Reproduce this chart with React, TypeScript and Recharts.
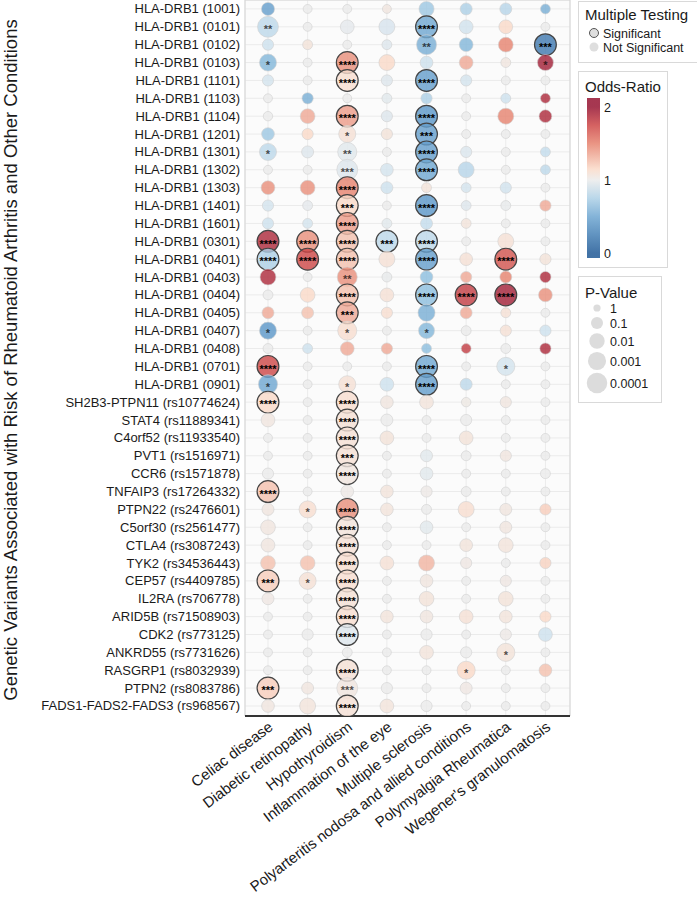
import React from "react";
import { ScatterChart, Scatter, XAxis, YAxis, CartesianGrid, ReferenceArea } from "recharts";

const diseases = [
  "Celiac disease",
  "Diabetic retinopathy",
  "Hypothyroidism",
  "Inflammation of the eye",
  "Multiple sclerosis",
  "Polyarteritis nodosa and allied conditions",
  "Polymyalgia Rheumatica",
  "Wegener's granulomatosis",
];

const variants = [
  "HLA-DRB1 (1001)", "HLA-DRB1 (0101)", "HLA-DRB1 (0102)", "HLA-DRB1 (0103)",
  "HLA-DRB1 (1101)", "HLA-DRB1 (1103)", "HLA-DRB1 (1104)", "HLA-DRB1 (1201)",
  "HLA-DRB1 (1301)", "HLA-DRB1 (1302)", "HLA-DRB1 (1303)", "HLA-DRB1 (1401)",
  "HLA-DRB1 (1601)", "HLA-DRB1 (0301)", "HLA-DRB1 (0401)", "HLA-DRB1 (0403)",
  "HLA-DRB1 (0404)", "HLA-DRB1 (0405)", "HLA-DRB1 (0407)", "HLA-DRB1 (0408)",
  "HLA-DRB1 (0701)", "HLA-DRB1 (0901)", "SH2B3-PTPN11 (rs10774624)", "STAT4 (rs11889341)",
  "C4orf52 (rs11933540)", "PVT1 (rs1516971)", "CCR6 (rs1571878)", "TNFAIP3 (rs17264332)",
  "PTPN22 (rs2476601)", "C5orf30 (rs2561477)", "CTLA4 (rs3087243)", "TYK2 (rs34536443)",
  "CEP57 (rs4409785)", "IL2RA (rs706778)", "ARID5B (rs71508903)", "CDK2 (rs773125)",
  "ANKRD55 (rs7731626)", "RASGRP1 (rs8032939)", "PTPN2 (rs8083786)", "FADS1-FADS2-FADS3 (rs968567)",
];

// one row per variant, one column per disease
const oddsRatio = [
  [0.45, 1.0, 1.0, 1.05, 0.7, 0.75, 0.78, 0.55],
  [0.8, 1.0, 0.97, 0.9, 0.5, 0.87, 1.15, 1.0],
  [0.85, 1.08, 1.0, 0.93, 0.55, 0.6, 1.5, 0.2],
  [0.6, 1.0, 1.45, 1.15, 0.85, 1.35, 1.05, 1.95],
  [0.88, 1.0, 1.12, 0.93, 0.45, 0.88, 1.0, 1.0],
  [1.0, 0.55, 1.0, 0.95, 0.75, 1.0, 0.85, 1.9],
  [1.0, 1.35, 1.4, 0.93, 0.4, 1.0, 1.5, 1.9],
  [0.7, 1.15, 1.1, 1.08, 0.45, 1.0, 1.0, 1.0],
  [0.8, 0.93, 0.95, 1.0, 0.45, 0.92, 1.0, 0.82],
  [1.0, 1.0, 0.93, 0.88, 0.5, 0.78, 1.0, 0.8],
  [1.45, 1.45, 1.5, 0.85, 1.08, 0.88, 0.87, 1.0],
  [0.88, 0.97, 1.15, 1.0, 0.4, 0.93, 0.98, 1.35],
  [0.85, 0.88, 1.4, 0.95, 0.82, 1.07, 1.0, 1.0],
  [1.9, 1.45, 1.25, 0.8, 0.8, 1.0, 1.1, 1.0],
  [0.75, 1.75, 1.25, 1.1, 0.45, 1.1, 1.7, 1.08],
  [1.9, 1.0, 1.45, 0.98, 0.65, 1.35, 1.5, 1.9],
  [1.0, 1.15, 1.25, 1.1, 0.65, 1.8, 1.95, 1.45],
  [1.35, 1.25, 1.35, 1.12, 0.55, 1.35, 1.1, 1.0],
  [0.4, 1.0, 1.12, 1.0, 0.6, 1.0, 1.1, 0.85],
  [1.0, 0.85, 1.35, 1.35, 0.65, 1.8, 1.0, 1.9],
  [1.75, 1.0, 1.0, 1.0, 0.5, 1.0, 0.88, 1.0],
  [0.5, 1.0, 1.1, 0.85, 0.45, 0.8, 1.0, 1.0],
  [1.15, 1.0, 1.12, 1.05, 1.07, 1.03, 1.05, 1.0],
  [1.05, 1.0, 1.1, 1.0, 1.0, 1.0, 1.0, 1.0],
  [1.0, 1.0, 1.1, 1.08, 1.0, 1.08, 1.0, 1.0],
  [1.0, 1.0, 1.1, 1.0, 0.95, 1.0, 1.05, 1.0],
  [1.0, 1.0, 1.05, 1.0, 0.95, 1.0, 1.0, 1.0],
  [1.25, 1.0, 1.02, 1.07, 1.02, 1.0, 1.0, 1.0],
  [1.05, 1.12, 1.45, 1.07, 1.0, 1.12, 1.05, 1.2],
  [1.05, 1.0, 1.07, 1.0, 0.95, 1.0, 1.05, 1.0],
  [1.05, 1.0, 1.1, 1.0, 1.0, 1.07, 1.07, 1.0],
  [1.25, 1.25, 1.12, 1.1, 1.3, 1.04, 1.0, 1.18],
  [1.2, 1.1, 1.12, 1.0, 1.05, 1.0, 1.04, 1.0],
  [1.04, 1.0, 1.1, 1.0, 1.08, 1.0, 1.08, 1.0],
  [1.0, 1.0, 1.12, 1.07, 1.05, 1.1, 1.07, 1.15],
  [1.0, 1.0, 0.93, 1.0, 1.0, 1.0, 1.02, 0.85],
  [1.0, 1.0, 1.0, 1.0, 1.07, 1.0, 1.08, 1.0],
  [1.0, 1.0, 1.1, 1.0, 1.0, 1.15, 1.0, 1.25],
  [1.2, 1.05, 1.05, 1.0, 1.0, 1.04, 1.0, 1.0],
  [1.05, 1.07, 1.1, 1.07, 1.0, 1.0, 1.0, 1.0],
];

// -log10(p)
const negLogP = [
  [1.3, 0.3, 0.3, 0.3, 1.9, 1.0, 1.0, 0.5],
  [4.2, 0.3, 1.5, 2.2, 5, 1.5, 1.5, 0.3],
  [0.8, 0.5, 0.3, 0.5, 3.8, 1.5, 1.8, 5],
  [2.6, 0.3, 5, 2.2, 1.2, 1.5, 0.5, 2.2],
  [0.8, 0.3, 5, 0.8, 5, 0.8, 0.3, 0.3],
  [0.3, 0.8, 0.3, 0.5, 0.8, 0.3, 0.5, 0.5],
  [0.4, 1.8, 5, 0.8, 5, 0.3, 2.2, 1.2],
  [1.2, 0.8, 2.6, 0.8, 5, 0.3, 0.3, 0.3],
  [2.6, 1.0, 3.4, 0.3, 5, 0.8, 0.3, 0.5],
  [0.3, 0.3, 4.2, 1.2, 5, 2.2, 0.3, 0.5],
  [1.5, 1.8, 5, 1.0, 0.5, 0.5, 0.8, 0.3],
  [0.8, 0.5, 5, 0.3, 5, 0.5, 0.5, 0.8],
  [0.8, 0.5, 5, 0.5, 1.0, 0.5, 0.3, 0.3],
  [5, 5, 5, 5, 5, 0.3, 2.2, 0.3],
  [5, 5, 5, 2.2, 5, 1.2, 5, 0.8],
  [2.2, 0.3, 3.8, 0.5, 1.2, 0.8, 1.0, 0.8],
  [0.5, 1.8, 5, 1.5, 5, 5, 5, 1.5],
  [1.0, 1.0, 5, 0.8, 2.6, 1.0, 0.5, 0.3],
  [2.6, 0.3, 3.4, 0.3, 2.2, 0.5, 0.8, 0.8],
  [0.5, 0.5, 1.5, 0.8, 0.5, 0.5, 0.5, 0.8],
  [5, 0.3, 0.3, 0.3, 5, 0.3, 3.0, 0.3],
  [3.4, 0.3, 2.6, 1.5, 5, 1.0, 0.3, 0.3],
  [5, 0.3, 5, 1.2, 1.5, 0.4, 0.8, 0.3],
  [1.5, 0.3, 5, 1.0, 0.3, 0.8, 0.3, 0.3],
  [0.3, 0.3, 5, 1.5, 0.3, 1.5, 0.3, 0.3],
  [0.3, 0.3, 5, 0.3, 1.0, 0.5, 0.8, 0.3],
  [0.8, 0.3, 5, 0.3, 1.2, 0.3, 0.3, 0.5],
  [5, 0.3, 1.2, 1.2, 0.8, 0.5, 0.3, 0.3],
  [1.0, 2.6, 5, 1.2, 0.5, 2.2, 1.0, 0.8],
  [1.8, 0.3, 5, 0.3, 1.2, 0.3, 1.0, 0.3],
  [1.5, 0.3, 5, 0.3, 0.3, 1.2, 1.8, 0.3],
  [1.8, 1.8, 5, 1.5, 2.2, 0.8, 0.3, 0.8],
  [5, 2.6, 5, 0.3, 1.2, 0.3, 0.8, 0.3],
  [1.0, 0.3, 5, 0.3, 1.8, 0.3, 1.8, 0.3],
  [0.3, 0.3, 5, 1.2, 1.2, 1.5, 1.2, 0.8],
  [0.3, 0.8, 5, 0.3, 0.8, 0.3, 0.8, 1.5],
  [0.3, 0.3, 0.5, 0.3, 1.5, 0.8, 3.0, 0.3],
  [0.3, 0.3, 5, 0.3, 0.3, 3.0, 0.3, 1.2],
  [5, 1.0, 4.2, 0.8, 0.3, 1.0, 0.3, 0.3],
  [1.2, 2.2, 5, 1.5, 0.8, 0.3, 0.3, 0.3],
];

const stars = [
  [0, 0, 0, 0, 0, 0, 0, 0],
  [2, 0, 0, 0, 4, 0, 0, 0],
  [0, 0, 0, 0, 2, 0, 0, 3],
  [1, 0, 4, 0, 0, 0, 0, 1],
  [0, 0, 4, 0, 4, 0, 0, 0],
  [0, 0, 0, 0, 0, 0, 0, 0],
  [0, 0, 4, 0, 4, 0, 0, 0],
  [0, 0, 1, 0, 3, 0, 0, 0],
  [1, 0, 2, 0, 4, 0, 0, 0],
  [0, 0, 3, 0, 4, 0, 0, 0],
  [0, 0, 4, 0, 0, 0, 0, 0],
  [0, 0, 3, 0, 4, 0, 0, 0],
  [0, 0, 4, 0, 0, 0, 0, 0],
  [4, 4, 4, 3, 4, 0, 0, 0],
  [4, 4, 4, 0, 4, 0, 4, 0],
  [0, 0, 2, 0, 0, 0, 0, 0],
  [0, 0, 4, 0, 4, 4, 4, 0],
  [0, 0, 3, 0, 0, 0, 0, 0],
  [1, 0, 1, 0, 1, 0, 0, 0],
  [0, 0, 0, 0, 0, 0, 0, 0],
  [4, 0, 0, 0, 4, 0, 1, 0],
  [1, 0, 1, 0, 4, 0, 0, 0],
  [4, 0, 4, 0, 0, 0, 0, 0],
  [0, 0, 4, 0, 0, 0, 0, 0],
  [0, 0, 4, 0, 0, 0, 0, 0],
  [0, 0, 3, 0, 0, 0, 0, 0],
  [0, 0, 4, 0, 0, 0, 0, 0],
  [4, 0, 0, 0, 0, 0, 0, 0],
  [0, 1, 4, 0, 0, 0, 0, 0],
  [0, 0, 4, 0, 0, 0, 0, 0],
  [0, 0, 4, 0, 0, 0, 0, 0],
  [0, 0, 4, 0, 0, 0, 0, 0],
  [3, 1, 4, 0, 0, 0, 0, 0],
  [0, 0, 4, 0, 0, 0, 0, 0],
  [0, 0, 4, 0, 0, 0, 0, 0],
  [0, 0, 4, 0, 0, 0, 0, 0],
  [0, 0, 0, 0, 0, 0, 1, 0],
  [0, 0, 4, 0, 0, 1, 0, 0],
  [3, 0, 3, 0, 0, 0, 0, 0],
  [0, 0, 4, 0, 0, 0, 0, 0],
];

// significant after multiple testing correction (1 = yes)
const significant = [
  [0, 0, 0, 0, 0, 0, 0, 0],
  [0, 0, 0, 0, 1, 0, 0, 0],
  [0, 0, 0, 0, 0, 0, 0, 1],
  [0, 0, 1, 0, 0, 0, 0, 0],
  [0, 0, 1, 0, 1, 0, 0, 0],
  [0, 0, 0, 0, 0, 0, 0, 0],
  [0, 0, 1, 0, 1, 0, 0, 0],
  [0, 0, 0, 0, 1, 0, 0, 0],
  [0, 0, 0, 0, 1, 0, 0, 0],
  [0, 0, 0, 0, 1, 0, 0, 0],
  [0, 0, 1, 0, 0, 0, 0, 0],
  [0, 0, 1, 0, 1, 0, 0, 0],
  [0, 0, 1, 0, 0, 0, 0, 0],
  [1, 1, 1, 1, 1, 0, 0, 0],
  [1, 1, 1, 0, 1, 0, 1, 0],
  [0, 0, 0, 0, 0, 0, 0, 0],
  [0, 0, 1, 0, 1, 1, 1, 0],
  [0, 0, 1, 0, 0, 0, 0, 0],
  [0, 0, 0, 0, 0, 0, 0, 0],
  [0, 0, 0, 0, 0, 0, 0, 0],
  [1, 0, 0, 0, 1, 0, 0, 0],
  [0, 0, 0, 0, 1, 0, 0, 0],
  [1, 0, 1, 0, 0, 0, 0, 0],
  [0, 0, 1, 0, 0, 0, 0, 0],
  [0, 0, 1, 0, 0, 0, 0, 0],
  [0, 0, 1, 0, 0, 0, 0, 0],
  [0, 0, 1, 0, 0, 0, 0, 0],
  [1, 0, 0, 0, 0, 0, 0, 0],
  [0, 0, 1, 0, 0, 0, 0, 0],
  [0, 0, 1, 0, 0, 0, 0, 0],
  [0, 0, 1, 0, 0, 0, 0, 0],
  [0, 0, 1, 0, 0, 0, 0, 0],
  [1, 0, 1, 0, 0, 0, 0, 0],
  [0, 0, 1, 0, 0, 0, 0, 0],
  [0, 0, 1, 0, 0, 0, 0, 0],
  [0, 0, 1, 0, 0, 0, 0, 0],
  [0, 0, 0, 0, 0, 0, 0, 0],
  [0, 0, 1, 0, 0, 0, 0, 0],
  [1, 0, 0, 0, 0, 0, 0, 0],
  [0, 0, 1, 0, 0, 0, 0, 0],
];

const pLegendLabels = ["1", "0.1", "0.01", "0.001", "0.0001"];
const orLegendLabels = [2, 1, 0];

const FONT = "'Liberation Sans', Arial, sans-serif";

// odds-ratio colour ramp (red-blue diverging around 1)
const colorStops: [number, number[]][] = [
  [0, [33, 90, 150]],
  [0.4, [90, 150, 200]],
  [0.65, [140, 190, 222]],
  [0.85, [205, 225, 238]],
  [1, [235, 235, 235]],
  [1.15, [250, 218, 200]],
  [1.5, [230, 130, 110]],
  [1.75, [205, 70, 70]],
  [2, [150, 20, 50]],
];

function orColor(v: number) {
  const t = Math.max(0, Math.min(2, v));
  for (let i = 0; i < colorStops.length - 1; i++) {
    const [a, ca] = colorStops[i];
    const [b, cb] = colorStops[i + 1];
    if (t >= a && t <= b) {
      const f = (t - a) / (b - a);
      const c = ca.map((x, k) => Math.round(x + (cb[k] - x) * f));
      return `rgb(${c[0]},${c[1]},${c[2]})`;
    }
  }
  return "rgb(235,235,235)";
}

function bubbleRadius(lp: number) {
  const l = Math.min(lp, 4.6);
  return Math.sqrt(13 + 23 * l);
}

const cells = variants.flatMap((v, r) =>
  diseases.map((d, c) => ({
    x: c,
    y: r,
    or: oddsRatio[r][c],
    lp: negLogP[r][c],
    stars: stars[r][c],
    sig: significant[r][c] === 1,
  }))
);

function Bubble(props: any) {
  const { cx, cy, payload } = props;
  if (cx == null || cy == null) return null;
  const r = bubbleRadius(payload.lp);
  const label = "*".repeat(payload.stars);
  return (
    <g>
      <circle
        cx={cx}
        cy={cy}
        r={r}
        fill={orColor(payload.or)}
        fillOpacity={0.8}
        stroke={payload.sig ? "#444" : "#d0d0d0"}
        strokeWidth={payload.sig ? 1.2 : 0.6}
      />
      {label && (
        <text
          x={cx}
          y={cy + 6.3}
          textAnchor="middle"
          fontSize={11}
          fontWeight="bold"
          fontFamily={FONT}
          fill="#000"
          fillOpacity={payload.sig ? 1 : 0.7}
        >
          {label}
        </text>
      )}
    </g>
  );
}

function YTick({ x, y, payload }: any) {
  return (
    <text x={x} y={y} dy={4.5} textAnchor="end" fontSize={13} fontFamily={FONT} fill="#1a1a1a">
      {variants[payload.value]}
    </text>
  );
}

function XTick({ x, y, payload }: any) {
  const tx = x + 6;
  const ty = y + 13;
  return (
    <text
      x={tx}
      y={ty}
      textAnchor="end"
      transform={`rotate(-37, ${tx}, ${ty})`}
      fontSize={15}
      fontFamily={FONT}
      fill="#1a1a1a"
    >
      {diseases[payload.value]}
    </text>
  );
}

function Legends() {
  const gradTop = 98;
  const gradH = 160;
  const orToY = (v: number) => 107 + (2 - v) * 73;
  const gradSteps = [0, 0.25, 0.5, 0.75, 1, 1.15, 1.3, 1.5, 1.75, 2];
  const pY = [308, 323, 341, 361, 383];
  return (
    <svg
      width={697}
      height={899}
      style={{ position: "absolute", left: 0, top: 0, pointerEvents: "none" }}
      fontFamily={FONT}
    >
      <defs>
        <linearGradient id="orGrad" x1="0" y1="0" x2="0" y2="1">
          {gradSteps
            .slice()
            .reverse()
            .map((v) => (
              <stop
                key={v}
                offset={(orToY(v) - gradTop) / gradH}
                stopColor={orColor(v)}
                stopOpacity={0.85}
              />
            ))}
        </linearGradient>
      </defs>

      <text
        transform="translate(16.5, 360) rotate(-90)"
        textAnchor="middle"
        fontSize={18.5}
        fill="#1a1a1a"
      >
        Genetic Variants Associated with Risk of Rheumatoid Arthritis and Other Conditions
      </text>

      {/* multiple testing */}
      <rect x={578.5} y={1.5} width={125} height={61} fill="#fff" stroke="#d9d9d9" />
      <text x={585} y={20} fontSize={15} fill="#1a1a1a">Multiple Testing</text>
      <circle cx={594} cy={33} r={4.5} fill="#dedede" stroke="#555" strokeWidth={1} />
      <text x={603} y={37.5} fontSize={12.5} fill="#1a1a1a">Significant</text>
      <circle cx={594} cy={47} r={4.5} fill="#dedede" />
      <text x={603} y={51.5} fontSize={12.5} fill="#1a1a1a">Not Significant</text>

      {/* odds ratio */}
      <rect x={578.5} y={71.5} width={89} height={196} fill="#fff" stroke="#d9d9d9" />
      <text x={585} y={92} fontSize={15} fill="#1a1a1a">Odds-Ratio</text>
      <rect x={587} y={gradTop} width={13} height={gradH} fill="url(#orGrad)" />
      {orLegendLabels.map((v) => (
        <text key={v} x={604} y={orToY(v) + 4.5} fontSize={12.5} fill="#1a1a1a">{v}</text>
      ))}

      {/* p-value */}
      <rect x={578.5} y={276.5} width={83} height={126} fill="#fff" stroke="#d9d9d9" />
      <text x={585} y={298} fontSize={15} fill="#1a1a1a">P-Value</text>
      {pLegendLabels.map((lab, i) => (
        <g key={lab}>
          <circle cx={597} cy={pY[i]} r={bubbleRadius(i)} fill="#dcdcdc" />
          <text x={610} y={pY[i] + 4.5} fontSize={12.5} fill="#1a1a1a">{lab}</text>
        </g>
      ))}
    </svg>
  );
}

const xTicks = diseases.map((_, i) => i);
const yTicks = variants.map((_, i) => i);

export default function App() {
  return (
    <div style={{ position: "absolute", left: 0, top: 0, width: 697, height: 899, background: "#fff", fontFamily: FONT }}>
      <ScatterChart width={697} height={899} margin={{ top: 0, right: 127, bottom: 0, left: 8 }}>
        <CartesianGrid stroke="#ebebeb" fill="#fbfbfb" />
        <XAxis
          type="number"
          dataKey="x"
          domain={[-0.58, 7.62]}
          allowDataOverflow
          ticks={xTicks}
          interval={0}
          height={183}
          tickLine={false}
          tickSize={0}
          tickMargin={0}
          axisLine={{ stroke: "#333", strokeWidth: 2 }}
          tick={<XTick />}
        />
        <YAxis
          type="number"
          dataKey="y"
          domain={[-0.5, 39.56]}
          allowDataOverflow
          reversed
          ticks={yTicks}
          interval={0}
          width={237}
          tickLine={false}
          tickSize={0}
          tickMargin={5}
          axisLine={false}
          tick={<YTick />}
        />
        <ReferenceArea
          x1={-0.58}
          x2={7.62}
          y1={-0.5}
          y2={39.56}
          fill="none"
          stroke="#d5d5d5"
          ifOverflow="visible"
        />
        <Scatter data={cells} shape={<Bubble />} isAnimationActive={false} />
      </ScatterChart>
      <Legends />
    </div>
  );
}
